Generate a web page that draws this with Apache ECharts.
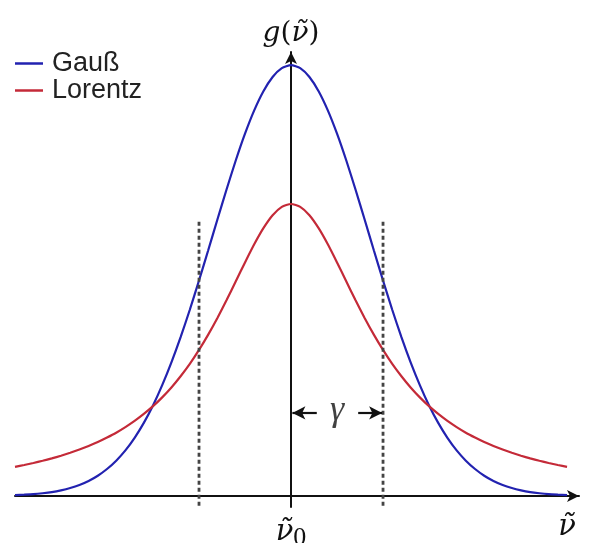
<!DOCTYPE html>
<html>
<head>
    <meta charset="utf-8">
    <title>Gauß / Lorentz</title>
    <script src="https://cdn.jsdelivr.net/npm/echarts@6/dist/echarts.min.js"></script>
</head>
<body style="margin:0;background:#fff;">
<div id="chart" style="width:589px;height:543px;"></div>
<script>
// frequency offset from line centre, in units of gamma
var nu = [-3.0, -2.9, -2.8, -2.7, -2.6, -2.5, -2.4, -2.3, -2.2, -2.1, -2.0, -1.9, -1.8, -1.7, -1.6, -1.5,
          -1.4, -1.3, -1.2, -1.1, -1.0, -0.9, -0.8, -0.7, -0.6, -0.5, -0.4, -0.3, -0.2, -0.1, 0.0,
          0.1, 0.2, 0.3, 0.4, 0.5, 0.6, 0.7, 0.8, 0.9, 1.0, 1.1, 1.2, 1.3, 1.4, 1.5,
          1.6, 1.7, 1.8, 1.9, 2.0, 2.1, 2.2, 2.3, 2.4, 2.5, 2.6, 2.7, 2.8, 2.9, 3.0];
var gauss = [0.0009, 0.0014, 0.0020, 0.0030, 0.0043, 0.0062, 0.0087, 0.0120, 0.0164, 0.0221, 0.0294, 0.0385, 0.0497, 0.0634, 0.0797, 0.0987,
             0.1208, 0.1456, 0.1731, 0.2030, 0.2349, 0.2679, 0.3014, 0.3344, 0.3660, 0.3950, 0.4204, 0.4413, 0.4568, 0.4665, 0.4697,
             0.4665, 0.4568, 0.4413, 0.4204, 0.3950, 0.3660, 0.3344, 0.3014, 0.2679, 0.2349, 0.2030, 0.1731, 0.1456, 0.1208, 0.0987,
             0.0797, 0.0634, 0.0497, 0.0385, 0.0294, 0.0221, 0.0164, 0.0120, 0.0087, 0.0062, 0.0043, 0.0030, 0.0020, 0.0014, 0.0009];
var lorentz = [0.0318, 0.0338, 0.0360, 0.0384, 0.0410, 0.0439, 0.0471, 0.0506, 0.0545, 0.0588, 0.0637, 0.0690, 0.0751, 0.0818, 0.0894, 0.0979,
               0.1075, 0.1183, 0.1305, 0.1440, 0.1592, 0.1759, 0.1941, 0.2136, 0.2341, 0.2546, 0.2744, 0.2920, 0.3061, 0.3152, 0.3183,
               0.3152, 0.3061, 0.2920, 0.2744, 0.2546, 0.2341, 0.2136, 0.1941, 0.1759, 0.1592, 0.1440, 0.1305, 0.1183, 0.1075, 0.0979,
               0.0894, 0.0818, 0.0751, 0.0690, 0.0637, 0.0588, 0.0545, 0.0506, 0.0471, 0.0439, 0.0410, 0.0384, 0.0360, 0.0338, 0.0318];
var seriesNames = ['Gauß', 'Lorentz'];
var dashX = [-1, 1];          // half width marks
var dashTop = 0.299;
var dashBottom = -0.011;
var gammaY = 0.0906;          // height of the gamma arrows
var gammaArrows = [[0.28, 0.015], [0.73, 0.99]];
var tickLabels = {0: '{i|ν\u0303}{s|0}', 3: '{i|ν\u0303}'};

function pairs(xs, ys) {
    var out = [];
    for (var i = 0; i < xs.length; i++) out.push([xs[i], ys[i]]);
    return out;
}

var serif = 'DejaVu Serif';
var chart = echarts.init(document.getElementById('chart'));

var series = [
    {
        name: seriesNames[0], type: 'line', data: pairs(nu, gauss), smooth: 0.2,
        showSymbol: false, lineStyle: {color: '#2222b0', width: 2.2}, itemStyle: {color: '#2222b0'}, z: 3
    },
    {
        name: seriesNames[1], type: 'line', data: pairs(nu, lorentz), smooth: 0.2,
        showSymbol: false, lineStyle: {color: '#c42a38', width: 2.2}, itemStyle: {color: '#c42a38'}, z: 3
    }
];
dashX.forEach(function (x) {
    series.push({
        type: 'line', data: [[x, dashTop], [x, dashBottom]], showSymbol: false, silent: true,
        lineStyle: {color: '#444', width: 2.8, type: [4, 3]}
    });
});
series.push({
    type: 'scatter', data: [[0.5, gammaY]], symbolSize: 1, silent: true,
    itemStyle: {color: 'transparent'},
    label: {
        show: true, position: 'inside', formatter: 'γ', color: '#111',
        fontFamily: 'Liberation Serif', fontStyle: 'italic', fontSize: 36, offset: [0, -2]
    },
    markLine: {
        silent: true, symbol: ['none', 'arrow'], symbolSize: [10, 13], label: {show: false},
        lineStyle: {type: 'solid', color: '#111', width: 2.2},
        data: gammaArrows.map(function (a) {
            return [{coord: [a[0], gammaY]}, {coord: [a[1], gammaY]}];
        })
    }
});

var option = {
    animation: false,
    legend: {
        data: seriesNames, orient: 'vertical', left: 10, top: 45,
        icon: 'rect', itemWidth: 28, itemHeight: 2.5, itemGap: 0,
        textStyle: {fontFamily: 'Liberation Sans', fontSize: 27, color: '#222', lineHeight: 27, padding: [0, 0, 0, 4]}
    },
    grid: {left: 15, top: 52, width: 564, height: 455, outerBoundsMode: 'none'},
    xAxis: {
        type: 'value', min: -3, max: 3.13, interval: 1,
        axisLine: {onZero: true, symbol: ['none', 'arrow'], symbolSize: [9, 12], lineStyle: {color: '#111', width: 2}},
        axisTick: {show: false}, splitLine: {show: false},
        axisLabel: {
            margin: 6,
            formatter: function (v) { return tickLabels[v] || ''; },
            rich: {
                i: {fontFamily: serif, fontStyle: 'italic', fontSize: 29, color: '#111'},
                s: {fontFamily: 'Liberation Serif', fontSize: 26, color: '#111', padding: [12, 0, 0, 0]}
            }
        }
    },
    yAxis: {
        type: 'value', min: -0.012, max: 0.484,
        axisLine: {onZero: true, symbol: ['none', 'arrow'], symbolSize: [9, 12], lineStyle: {color: '#111', width: 2}},
        axisTick: {show: false}, splitLine: {show: false}, axisLabel: {show: false},
        name: '{i|g}{n|(}{i|ν\u0303}{n|)}', nameLocation: 'end', nameGap: 4,
        nameTextStyle: {
            rich: {
                i: {fontFamily: serif, fontStyle: 'italic', fontSize: 28, color: '#111'},
                n: {fontFamily: serif, fontSize: 28, color: '#111'}
            }
        }
    },
    series: series
};
chart.setOption(option);
</script>
</body>
</html>
